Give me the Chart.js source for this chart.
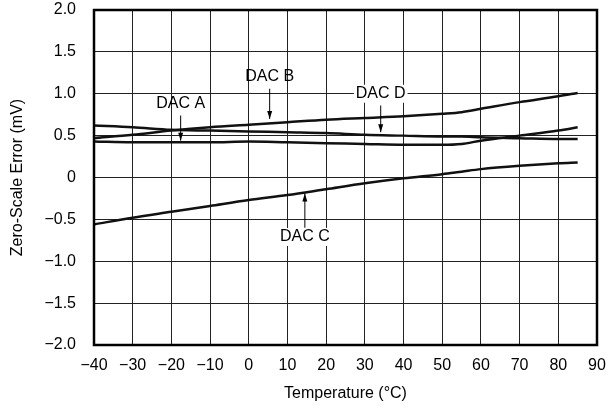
<!DOCTYPE html>
<html>
<head>
<meta charset="utf-8">
<script src="https://cdn.jsdelivr.net/npm/chart.js@4.4.0/dist/chart.umd.min.js"></script>
<style>
  html, body { margin: 0; padding: 0; background: #fff; }
  #wrap { width: 609px; height: 413px; }
</style>
</head>
<body>
<div id="wrap"><canvas id="zsChart" width="609" height="413"></canvas></div>
<script>
// temperatures (°C)
const temps = [-40, -30, -20, -10, 0, 10, 20, 30, 40, 50, 55, 60, 70, 80, 85];
// zero-scale error (mV)
const dacA = [0.43, 0.42, 0.42, 0.42, 0.43, 0.42, 0.41, 0.40, 0.39, 0.39, 0.40, 0.44, 0.50, 0.56, 0.60];
const dacB = [0.47, 0.51, 0.56, 0.60, 0.63, 0.66, 0.69, 0.71, 0.73, 0.76, 0.78, 0.82, 0.90, 0.97, 1.01];
const dacC = [-0.56, -0.48, -0.41, -0.34, -0.27, -0.21, -0.14, -0.07, -0.01, 0.04, 0.07, 0.10, 0.14, 0.17, 0.18];
const dacD = [0.62, 0.60, 0.57, 0.56, 0.55, 0.54, 0.53, 0.51, 0.50, 0.49, 0.49, 0.48, 0.47, 0.46, 0.46];

const xTicks = [-40, -30, -20, -10, 0, 10, 20, 30, 40, 50, 60, 70, 80, 90];
const yTicks = [-2.0, -1.5, -1.0, -0.5, 0, 0.5, 1.0, 1.5, 2.0];

// callouts: label position and arrow (data units)
const callouts = [
    { text: 'DAC A', x: -17.6, y: 0.88, ax: -17.6, ay1: 0.74, ay2: 0.44, box: false },
    { text: 'DAC B', x: 5.4, y: 1.20, ax: 5.4, ay1: 1.06, ay2: 0.70, box: false },
    { text: 'DAC D', x: 34.1, y: 1.00, ax: 34.1, ay1: 0.86, ay2: 0.54, box: true },
    { text: 'DAC C', x: 14.5, y: -0.71, ax: 14.5, ay1: -0.60, ay2: -0.19, box: true }
];

const FONT = '"Liberation Sans", Arial, sans-serif';

function pts(vals) {
    return temps.map((t, i) => ({ x: t, y: vals[i] }));
}

const frame = {
    id: 'frame',
    afterDraw(chart) {
        const ctx = chart.ctx;
        const a = chart.chartArea;
        const xs = chart.scales.x, ys = chart.scales.y;
        ctx.save();
        ctx.strokeStyle = '#000';
        ctx.lineWidth = 2.5;
        ctx.strokeRect(a.left, a.top, a.right - a.left, a.bottom - a.top);

        ctx.font = '16px ' + FONT;
        ctx.textAlign = 'center';
        ctx.textBaseline = 'middle';
        callouts.forEach(c => {
            const px = xs.getPixelForValue(c.x);
            const py = ys.getPixelForValue(c.y);
            if (c.box) {
                const w = ctx.measureText(c.text).width + 4;
                ctx.fillStyle = '#fff';
                ctx.fillRect(px - w / 2, py - 9, w, 18);
            }
            ctx.fillStyle = '#000';
            ctx.fillText(c.text, px, py);
            // arrow
            const ax = xs.getPixelForValue(c.ax);
            const y1 = ys.getPixelForValue(c.ay1);
            const y2 = ys.getPixelForValue(c.ay2);
            ctx.lineWidth = 1;
            ctx.beginPath();
            ctx.moveTo(ax, y1);
            ctx.lineTo(ax, y2);
            ctx.stroke();
            const dir = y2 > y1 ? 1 : -1;
            ctx.beginPath();
            ctx.moveTo(ax, y2);
            ctx.lineTo(ax - 2.5, y2 - dir * 8);
            ctx.lineTo(ax + 2.5, y2 - dir * 8);
            ctx.closePath();
            ctx.fill();
        });
        ctx.restore();
    }
};

const lineStyle = {
    borderColor: '#111',
    borderWidth: 2.5,
    pointRadius: 0,
    fill: false,
    cubicInterpolationMode: 'monotone'
};

const ctx = document.getElementById('zsChart').getContext('2d');
const chart = new Chart(ctx, {
    type: 'line',
    data: {
        datasets: [
            Object.assign({ label: 'DAC A', data: pts(dacA) }, lineStyle),
            Object.assign({ label: 'DAC B', data: pts(dacB) }, lineStyle),
            Object.assign({ label: 'DAC C', data: pts(dacC) }, lineStyle),
            Object.assign({ label: 'DAC D', data: pts(dacD) }, lineStyle)
        ]
    },
    plugins: [frame],
    options: {
        responsive: false,
        animation: false,
        layout: { padding: { top: 0, right: 0, bottom: 6, left: 0 } },
        plugins: {
            legend: { display: false },
            tooltip: { enabled: false }
        },
        scales: {
            x: {
                type: 'linear',
                min: -40,
                max: 90,
                afterBuildTicks: axis => { axis.ticks = xTicks.map(v => ({ value: v })); },
                afterFit: axis => { axis.height = 62; axis.paddingRight = 12; },
                grid: { color: '#222', lineWidth: 1, drawTicks: false },
                border: { display: false },
                ticks: {
                    color: '#000',
                    padding: 11,
                    maxRotation: 0,
                    font: { family: FONT, size: 16 },
                    callback: v => (v < 0 ? '\u2212' + Math.abs(v) : '' + v)
                },
                title: {
                    display: true,
                    text: 'Temperature (\u00B0C)',
                    color: '#000',
                    font: { family: FONT, size: 16 },
                    padding: { top: 12 }
                }
            },
            y: {
                min: -2,
                max: 2,
                afterBuildTicks: axis => { axis.ticks = yTicks.map(v => ({ value: v })); },
                afterFit: axis => { axis.width = 94; axis.paddingTop = 10; axis.paddingBottom = 0; },
                grid: { color: '#222', lineWidth: 1, drawTicks: false },
                border: { display: false },
                ticks: {
                    color: '#000',
                    padding: 18,
                    font: { family: FONT, size: 16 },
                    callback: v => v === 0 ? '0' : (v < 0 ? '\u2212' : '') + Math.abs(v).toFixed(1)
                },
                title: {
                    display: true,
                    text: 'Zero-Scale Error (mV)',
                    color: '#000',
                    font: { family: FONT, size: 16 },
                    padding: { top: 8, bottom: 0 }
                }
            }
        }
    }
});
</script>
</body>
</html>
